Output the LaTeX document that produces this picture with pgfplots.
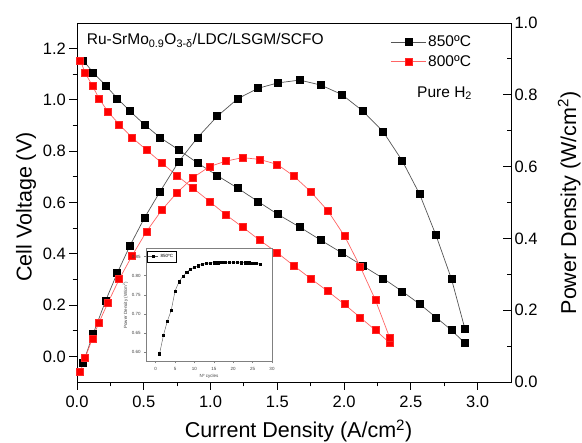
\documentclass[border=0pt]{standalone}
\usepackage{fontspec}
\setmainfont{Liberation Sans}
\usepackage{pgfplots}
\pgfplotsset{compat=1.18}
\definecolor{redmark}{RGB}{255,0,0}
\definecolor{redline}{RGB}{255,100,100}
\definecolor{grayline}{RGB}{85,85,85}
\newcommand{\tickfont}{\fontsize{16.5}{18}\selectfont}
\newcommand{\labfont}{\fontsize{21.5}{24}\selectfont}
\newcommand{\smallfont}{\fontsize{15.5}{17}\selectfont}
\newcommand{\insetfont}{\fontsize{4.5}{5}\selectfont}

% Current density (A/cm2), voltage (V), power (W/cm2)
\pgfplotstableread{
I V P
0.047 1.154 0.054
0.122 1.106 0.135
0.215 1.056 0.227
0.302 1.006 0.304
0.397 0.956 0.380
0.505 0.904 0.457
0.623 0.853 0.531
0.760 0.806 0.613
0.903 0.754 0.681
1.050 0.705 0.740
1.203 0.656 0.789
1.355 0.604 0.818
1.503 0.554 0.833
1.668 0.504 0.841
1.826 0.453 0.827
1.982 0.404 0.801
2.140 0.353 0.755
2.293 0.304 0.697
2.436 0.253 0.616
2.566 0.204 0.523
2.688 0.152 0.409
2.805 0.102 0.286
2.905 0.051 0.148
}\tabA
\pgfplotstableread{
I V P
0.025 1.154 0.029
0.062 1.104 0.068
0.115 1.056 0.121
0.165 1.005 0.166
0.232 0.954 0.221
0.317 0.904 0.287
0.413 0.853 0.352
0.520 0.805 0.419
0.635 0.754 0.479
0.748 0.705 0.527
0.868 0.656 0.569
0.993 0.604 0.600
1.113 0.553 0.615
1.240 0.504 0.625
1.368 0.453 0.620
1.500 0.404 0.606
1.622 0.354 0.574
1.748 0.304 0.531
1.878 0.254 0.477
2.003 0.203 0.407
2.120 0.152 0.322
2.235 0.102 0.228
2.343 0.052 0.122
}\tabB
\pgfplotstableread{
N P
1 0.596
2 0.644
3 0.681
4 0.709
5 0.760
6 0.784
7 0.798
8 0.809
9 0.817
10 0.822
11 0.826
12 0.830
13 0.832
14 0.833
15 0.834
16 0.834
17 0.835
18 0.835
19 0.835
20 0.835
21 0.835
22 0.834
23 0.834
24 0.834
25 0.833
26 0.832
27 0.830
}\tabC

\begin{document}
\begin{tikzpicture}
\useasboundingbox (0,0) rectangle (582pt,443pt);
% main axis: cell voltage
\begin{axis}[
  at={(77pt,61pt)}, anchor=south west,
  scale only axis, width=434pt, height=359pt,
  xmin=0, xmax=3.25, ymin=-0.1, ymax=1.3,
  xtick={0,0.5,...,3.0}, ytick={0,0.2,...,1.2},
  minor x tick num=1, minor y tick num=1,
  xtick pos=bottom, ytick pos=left,
  tick align=outside,
  major tick length=7.7pt, minor tick length=4.3pt,
  axis line style={line width=0.9pt},
  every tick/.style={line width=0.9pt, black},
  tick label style={font=\tickfont},
  xticklabel style={yshift=-3pt},
  /pgf/number format/assume math mode=true,
  /pgf/number format/.cd, fixed, fixed zerofill, precision=1,
  /pgfplots/.cd,
  legend style={at={(rel axis cs:0.722,0.970)}, anchor=north west, draw=none, fill=none,
     inner sep=0pt, font=\smallfont, row sep=3pt,
     nodes={inner sep=2pt}},
  legend cell align=left,
  legend image code/.code={\draw[mark repeat=2,mark phase=2] plot coordinates {(0pt,0pt) (17.5pt,0pt) (35pt,0pt)};},
]
\addplot[grayline, line width=0.7pt, mark=square*, mark size=3.5pt, mark options={fill=black, draw=black, solid}] table[x=I, y=V] {\tabA};
\addlegendentry{850ºC}
\addplot[redline, line width=0.7pt, mark=square*, mark size=3.5pt, mark options={fill=redmark, draw=redmark!85!white, solid}] table[x=I, y=V] {\tabB};
\addlegendentry{800ºC}
\node[anchor=base west, inner sep=0pt, font=\smallfont] at (rel axis cs:0.7835,0.793) {Pure H\textsubscript{2}};
\end{axis}
% second axis: power density
\begin{axis}[
  at={(77pt,61pt)}, anchor=south west,
  scale only axis, width=434pt, height=359pt,
  xmin=0, xmax=3.25, ymin=0, ymax=1.0,
  axis x line=none, axis y line*=right,
  ytick={0,0.2,...,1.0}, minor y tick num=1,
  tick align=inside,
  major tick length=7.7pt, minor tick length=4.3pt,
  axis line style={line width=0.9pt},
  every tick/.style={line width=0.9pt, black},
  tick label style={font=\tickfont},
  /pgf/number format/assume math mode=true,
  /pgf/number format/.cd, fixed, fixed zerofill, precision=1,
  /pgfplots/.cd,
]
\addplot[grayline, line width=0.7pt, mark=square*, mark size=3.5pt, mark options={fill=black, draw=black, solid}] table[x=I, y=P] {\tabA};
\addplot[redline, line width=0.7pt, mark=square*, mark size=3.5pt, mark options={fill=redmark, draw=redmark!85!white, solid}] table[x=I, y=P] {\tabB};
\end{axis}
% inset
\begin{axis}[
  at={(146pt,81.3pt)}, anchor=south west,
  scale only axis, width=126pt, height=113.2pt,
  xmin=-2.5, xmax=30, ymin=0.575, ymax=0.871,
  axis background/.style={fill=white},
  xtick={0,5,...,30}, ytick={0.60,0.65,0.70,0.75,0.80,0.85},
  xtick pos=bottom, ytick pos=left,
  tick align=outside, major tick length=1.8pt,
  axis line style={line width=0.4pt, gray},
  every tick/.style={line width=0.4pt, gray},
  tick label style={font=\insetfont, text=darkgray},
  xticklabel style={/pgf/number format/.cd, fixed, precision=0},
  yticklabel style={/pgf/number format/.cd, fixed, fixed zerofill, precision=2},
  /pgf/number format/assume math mode=true,
  xlabel={Nº cycles}, ylabel={Power Density (W/cm\textsuperscript{2})},
  label style={font=\insetfont, text=darkgray},
  xlabel style={yshift=3pt},
  ylabel style={yshift=-3pt},
  legend style={at={(rel axis cs:0.01,0.975)}, anchor=north west, draw=black, line width=0.3pt,
     inner sep=0.8pt, font=\insetfont},
  legend image code/.code={\draw[mark repeat=2,mark phase=2] plot coordinates {(0pt,0pt) (5pt,0pt) (10pt,0pt)};},
]
\addplot[grayline, line width=0.4pt, mark=square*, mark size=1.1pt, mark options={fill=black, draw=black, solid}] table[x=N, y=P] {\tabC};
\addlegendentry{850ºC}
\end{axis}
% titles and labels
\node[anchor=base west, inner sep=0pt, font=\smallfont] at (86.7pt,398pt) {Ru-SrMo\textsubscript{0.9}O\textsubscript{3-δ}/LDC/LSGM/SCFO};
\node[font=\labfont, inner sep=0pt, anchor=base] at (298.5pt,5pt) {Current Density (A/cm\textsuperscript{2})};
\node[font=\labfont, inner sep=0pt, anchor=base, rotate=90] at (31.7pt,236pt) {Cell Voltage (V)};
\node[font=\labfont, inner sep=0pt, anchor=base, rotate=90] at (576pt,240pt) {Power Density (W/cm\textsuperscript{2})};
\end{tikzpicture}
\end{document}
